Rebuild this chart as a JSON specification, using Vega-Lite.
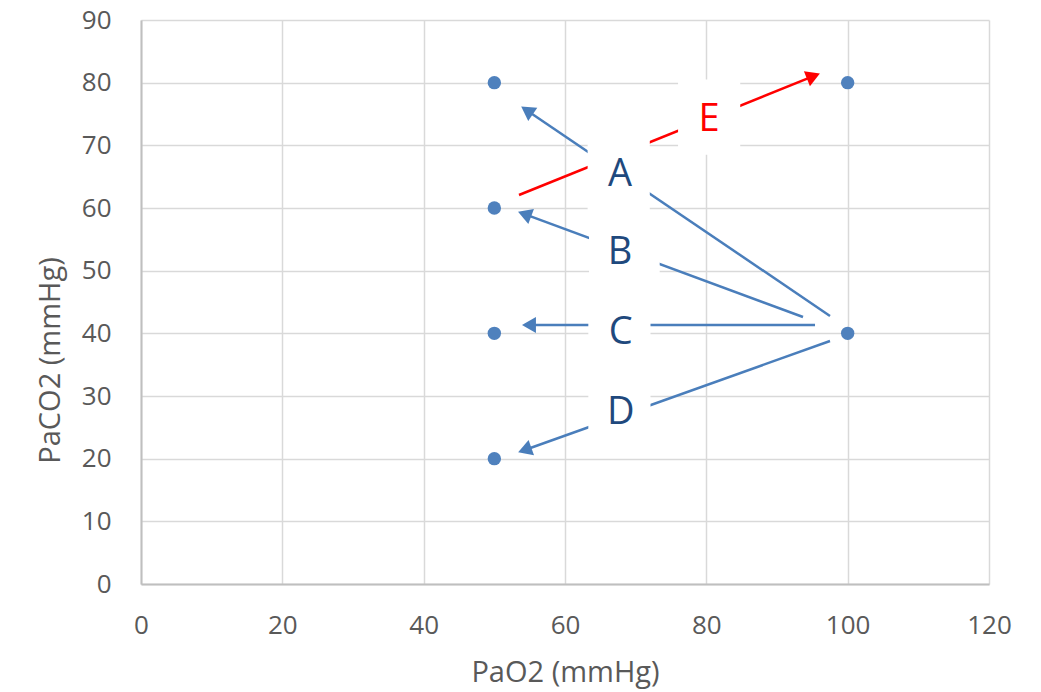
{
  "$schema": "https://vega.github.io/schema/vega-lite/v6.json",
  "width": 848,
  "height": 564,
  "autosize": {"type": "none"},
  "padding": {"left": 141, "top": 20, "right": 52, "bottom": 108},
  "background": "white",
  "config": {
    "view": {"stroke": null},
    "font": "Open Sans",
    "axis": {
      "grid": true,
      "gridColor": "#d9d9d9",
      "gridWidth": 1.5,
      "domainColor": "#bfbfbf",
      "domainWidth": 2,
      "ticks": false,
      "labelFlush": false,
      "labelFont": "Open Sans",
      "labelFontSize": 26,
      "labelColor": "#595959",
      "titleFont": "Open Sans",
      "titleFontSize": 29,
      "titleFontWeight": "normal",
      "titleColor": "#595959"
    }
  },
  "datasets": {
    "pts": [
      {"x": 50, "y": 80}, {"x": 50, "y": 60}, {"x": 50, "y": 40}, {"x": 50, "y": 20},
      {"x": 100, "y": 80}, {"x": 100, "y": 40}
    ],
    "segs": [
      {"label": "A", "x": 97.5, "y": 42.77, "x2": 54.62, "y2": 75.57},
      {"label": "B", "x": 93.68, "y": 42.6, "x2": 54.28, "y2": 59.03},
      {"label": "C", "x": 95.38, "y": 41.33, "x2": 54.9, "y2": 41.33},
      {"label": "D", "x": 97.5, "y": 38.78, "x2": 54.3, "y2": 21.38},
      {"label": "E", "x": 53.49, "y": 62.07, "x2": 95.15, "y2": 81.03}
    ],
    "boxes": [
      {"label": "A", "x": 63.2, "x2": 72.0, "y": 59.4, "y2": 71.2},
      {"label": "B", "x": 63.4, "x2": 73.4, "y": 46.9, "y2": 58.4},
      {"label": "C", "x": 63.3, "x2": 72.1, "y": 34.1, "y2": 45.8},
      {"label": "D", "x": 63.3, "x2": 72.1, "y": 21.4, "y2": 33.0},
      {"label": "E", "x": 76.0, "x2": 84.8, "y": 68.5, "y2": 80.5}
    ],
    "labels": [
      {"label": "A", "x": 67.8, "y": 65.3},
      {"label": "B", "x": 67.8, "y": 52.8},
      {"label": "C", "x": 67.9, "y": 40.05},
      {"label": "D", "x": 67.9, "y": 27.3},
      {"label": "E", "x": 80.4, "y": 74.0}
    ]
  },
  "encoding": {
    "x": {
      "field": "x", "type": "quantitative",
      "scale": {"domain": [0, 120], "nice": false, "zero": false},
      "axis": {"title": "PaO2 (mmHg)", "values": [0, 20, 40, 60, 80, 100, 120], "labelPadding": 28, "titleY": 88, "titleBaseline": "middle"}
    },
    "y": {
      "field": "y", "type": "quantitative",
      "scale": {"domain": [0, 90], "nice": false, "zero": false},
      "axis": {"title": "PaCO2 (mmHg)", "values": [0, 10, 20, 30, 40, 50, 60, 70, 80, 90], "labelPadding": 30, "titleAngle": -90, "titleX": -91, "titleY": 340, "titleBaseline": "middle", "titleAlign": "center"}
    }
  },
  "resolve": {"scale": {"color": "independent"}},
  "layer": [
    {
      "data": {"name": "segs"},
      "mark": {"type": "rule", "strokeWidth": 2.5, "strokeCap": "butt"},
      "encoding": {
        "x2": {"field": "x2"},
        "y2": {"field": "y2"},
        "color": {"field": "label", "type": "nominal", "legend": null,
          "scale": {"domain": ["A", "B", "C", "D", "E"], "range": ["#4A7EBB", "#4A7EBB", "#4A7EBB", "#4A7EBB", "#FF0000"]}}
      }
    },
    {
      "data": {"name": "boxes"},
      "mark": {"type": "rect", "color": "white", "opacity": 1},
      "encoding": {
        "x2": {"field": "x2"},
        "y2": {"field": "y2"}
      }
    },
    {
      "data": {"name": "labels"},
      "mark": {"type": "text", "fontSize": 38, "font": "Open Sans", "align": "center", "baseline": "middle"},
      "encoding": {
        "text": {"field": "label"},
        "color": {"field": "label", "type": "nominal", "legend": null,
          "scale": {"domain": ["A", "B", "C", "D", "E"], "range": ["#1F497D", "#1F497D", "#1F497D", "#1F497D", "#FF0000"]}}
      }
    },
    {
      "data": {"name": "segs"},
      "transform": [{"filter": "datum.label === 'A'"}],
      "mark": {"type": "point", "shape": "triangle-up", "filled": true, "size": 260, "angle": 304.2, "color": "#4A7EBB", "opacity": 1},
      "encoding": {"x": {"field": "x2", "type": "quantitative"}, "y": {"field": "y2", "type": "quantitative"}}
    },
    {
      "data": {"name": "segs"},
      "transform": [{"filter": "datum.label === 'B'"}],
      "mark": {"type": "point", "shape": "triangle-up", "filled": true, "size": 260, "angle": 290.3, "color": "#4A7EBB", "opacity": 1},
      "encoding": {"x": {"field": "x2", "type": "quantitative"}, "y": {"field": "y2", "type": "quantitative"}}
    },
    {
      "data": {"name": "segs"},
      "transform": [{"filter": "datum.label === 'C'"}],
      "mark": {"type": "point", "shape": "triangle-up", "filled": true, "size": 260, "angle": 270, "color": "#4A7EBB", "opacity": 1},
      "encoding": {"x": {"field": "x2", "type": "quantitative"}, "y": {"field": "y2", "type": "quantitative"}}
    },
    {
      "data": {"name": "segs"},
      "transform": [{"filter": "datum.label === 'D'"}],
      "mark": {"type": "point", "shape": "triangle-up", "filled": true, "size": 260, "angle": 250.4, "color": "#4A7EBB", "opacity": 1},
      "encoding": {"x": {"field": "x2", "type": "quantitative"}, "y": {"field": "y2", "type": "quantitative"}}
    },
    {
      "data": {"name": "segs"},
      "transform": [{"filter": "datum.label === 'E'"}],
      "mark": {"type": "point", "shape": "triangle-up", "filled": true, "size": 260, "angle": 68.0, "color": "#FF0000", "opacity": 1},
      "encoding": {"x": {"field": "x2", "type": "quantitative"}, "y": {"field": "y2", "type": "quantitative"}}
    },
    {
      "data": {"name": "pts"},
      "mark": {"type": "circle", "size": 180, "color": "#4F81BD", "opacity": 1}
    }
  ]
}
